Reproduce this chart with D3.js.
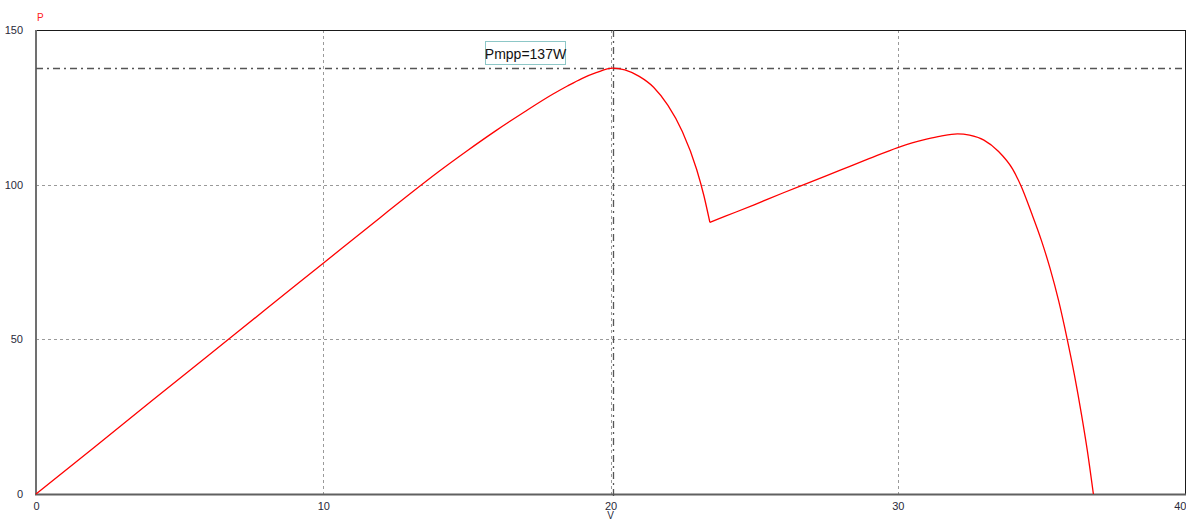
<!DOCTYPE html>
<html>
<head>
<meta charset="utf-8">
<script src="https://cdn.jsdelivr.net/npm/d3@7"></script>
<style>
  html, body { margin: 0; padding: 0; background: #fff; overflow: hidden; }
  svg { display: block; }
  text { font-family: "Liberation Sans", Arial, sans-serif; }
</style>
</head>
<body>
<svg id="chart" width="1186" height="520"></svg>
<script>
// ---- data ----
const voltage = [0, 2, 4, 6, 8, 10, 12, 13, 14, 15, 16, 17, 18, 18.5, 19, 19.5, 20.07,
  20.5, 21, 21.5, 22, 22.5, 23, 23.25, 23.46,
  24, 25, 26, 27, 28, 29, 30, 30.5, 31, 31.5, 32.08, 32.5, 33, 33.5, 34, 34.3, 34.65,
  35, 35.3, 35.6, 35.9, 36.15, 36.4, 36.6, 36.81];
const power = [0, 14.9, 29.9, 44.8, 59.7, 74.6, 89.5, 96.9, 104.1, 110.9, 117.4, 123.5, 129.3, 131.9, 134.3, 136.2, 137.7,
  137.1, 135.0, 131.5, 125.6, 117.2, 104.9, 96.5, 87.8,
  89.8, 93.5, 97.3, 101.0, 104.7, 108.4, 112.0, 113.5, 114.7, 115.7, 116.4, 116.0, 114.4, 110.8, 105.0, 99.4, 91.0,
  82.0, 73.0, 62.5, 50.0, 38.5, 25.5, 14.0, 0];
const xTicks = [0, 10, 20, 30, 40];
const yTicks = [0, 50, 100, 150];
const xGrid = [10, 20, 30];
const yGrid = [50, 100];
const pmppV = 20.07;
const pmppP = 137.7;
const pmppLabel = "Pmpp=137W";
const yTitle = "P";
const xTitle = "V";

// ---- layout ----
const svg = d3.select("#chart");
const mLeft = 36, mRight = 1185, mTop = 30, mBottom = 494;
const x = d3.scaleLinear().domain([0, 40]).range([mLeft, mRight]);
const y = d3.scaleLinear().domain([0, 150]).range([mBottom, mTop]);

// grid
svg.append("g").selectAll("line").data(xGrid).join("line")
  .attr("x1", d => Math.round(x(d)) + 0.5).attr("x2", d => Math.round(x(d)) + 0.5)
  .attr("y1", mTop).attr("y2", mBottom)
  .attr("stroke", "#9a9a9a").attr("stroke-width", 1).attr("stroke-dasharray", "3,3");
svg.append("g").selectAll("line").data(yGrid).join("line")
  .attr("y1", d => Math.round(y(d)) + 0.5).attr("y2", d => Math.round(y(d)) + 0.5)
  .attr("x1", mLeft).attr("x2", mRight)
  .attr("stroke", "#9a9a9a").attr("stroke-width", 1).attr("stroke-dasharray", "3,3");

// frame: top/right thin dark, left/bottom thick gray
svg.append("line").attr("x1", mLeft).attr("x2", mRight).attr("y1", mTop + 0.5).attr("y2", mTop + 0.5)
  .attr("stroke", "#1a1a1a").attr("stroke-width", 1);
svg.append("line").attr("x1", mRight + 0.5).attr("x2", mRight + 0.5).attr("y1", mTop).attr("y2", mBottom)
  .attr("stroke", "#1a1a1a").attr("stroke-width", 1);
svg.append("line").attr("x1", mLeft).attr("x2", mLeft).attr("y1", mTop).attr("y2", mBottom + 1)
  .attr("stroke", "#707070").attr("stroke-width", 2);
svg.append("line").attr("x1", mLeft - 1).attr("x2", mRight + 1).attr("y1", mBottom + 0.5).attr("y2", mBottom + 0.5)
  .attr("stroke", "#606060").attr("stroke-width", 2);

// Pmpp dash-dot lines
svg.append("line")
  .attr("x1", mLeft).attr("x2", mRight)
  .attr("y1", Math.round(y(pmppP)) + 0.5).attr("y2", Math.round(y(pmppP)) + 0.5)
  .attr("stroke", "#555").attr("stroke-width", 1.3).attr("stroke-dasharray", "7,4,2,4");
svg.append("line")
  .attr("x1", Math.round(x(pmppV)) + 0.5).attr("x2", Math.round(x(pmppV)) + 0.5)
  .attr("y1", mTop).attr("y2", mBottom + 3)
  .attr("stroke", "#555").attr("stroke-width", 1.3).attr("stroke-dasharray", "7,4,2,4");

// curve: smooth pieces, split at the sharp knee (local minimum)
const pts = voltage.map((v, i) => [v, power[i]]);
const kneeIdx = voltage.indexOf(23.46);
const lineGen = d3.line().x(d => x(d[0])).y(d => y(d[1])).curve(d3.curveMonotoneX);
svg.append("g").selectAll("path")
  .data([pts.slice(0, kneeIdx + 1), pts.slice(kneeIdx)])
  .join("path")
  .attr("fill", "none")
  .attr("stroke", "#ff0000")
  .attr("stroke-width", 1.3)
  .attr("d", lineGen);

// axes labels
const xAxis = d3.axisBottom(x).tickValues(xTicks).tickSize(0).tickPadding(0).tickFormat(d3.format("d"));
const gx = svg.append("g").attr("transform", `translate(0,${mBottom + 8})`).call(xAxis);
gx.select(".domain").remove();
gx.selectAll("text").attr("font-size", 11).attr("fill", "#2a2a3a")
  .attr("font-family", "'Liberation Sans', Arial, sans-serif")
  .attr("text-anchor", d => d === 40 ? "end" : "middle")
  .attr("dx", d => d === 40 ? 1 : 0);

const yAxis = d3.axisLeft(y).tickValues(yTicks).tickSize(0).tickPadding(0).tickFormat(d3.format("d"));
const gy = svg.append("g").attr("transform", `translate(${mLeft - 13},0)`).call(yAxis);
gy.select(".domain").remove();
gy.selectAll("text").attr("font-size", 11).attr("fill", "#2a2a3a")
  .attr("font-family", "'Liberation Sans', Arial, sans-serif");

// titles
svg.append("text").attr("x", mLeft + 1).attr("y", 21).attr("font-size", 10)
  .attr("fill", "#ff2020").text(yTitle);
svg.append("text").attr("x", x(20)).attr("y", 519).attr("text-anchor", "middle")
  .attr("font-size", 10).attr("fill", "#2a2a3a").text(xTitle);

// annotation box
const bx = 485.5, by = 41.5, bw = 80, bh = 23;
svg.append("rect").attr("x", bx).attr("y", by).attr("width", bw).attr("height", bh)
  .attr("fill", "#fff").attr("stroke", "#1a8f8f").attr("stroke-width", 1).attr("stroke-dasharray", "1,1");
svg.append("text").attr("x", bx + bw / 2).attr("y", by + 17).attr("text-anchor", "middle")
  .attr("font-size", 14).attr("fill", "#111").text(pmppLabel);
</script>
</body>
</html>
